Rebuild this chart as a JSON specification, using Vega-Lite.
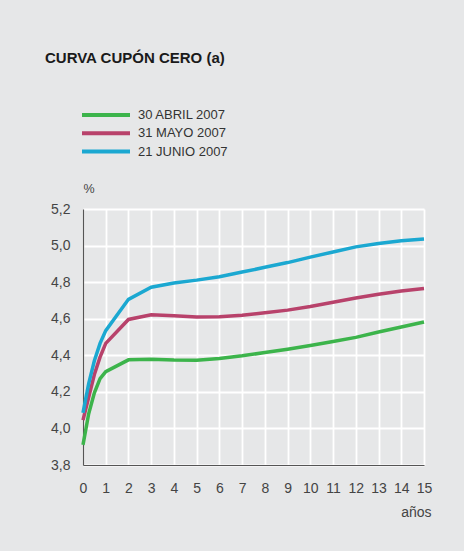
{
  "$schema": "https://vega.github.io/schema/vega-lite/v6.json",
  "width": 341,
  "height": 256,
  "autosize": {"type": "none"},
  "padding": {"left": 83, "top": 209, "right": 40, "bottom": 86},
  "background": "#e6e7e8",
  "title": {
    "text": "CURVA CUPÓN CERO (a)",
    "anchor": "start",
    "frame": "group",
    "dx": -38,
    "fontSize": 15,
    "font": "Liberation Sans",
    "fontWeight": "bold",
    "color": "#1a1a1a",
    "offset": 41
  },
  "data": {
    "values": [
      {"serie": "30 ABRIL 2007", "anos": 0, "tipo": 3.91},
      {"serie": "30 ABRIL 2007", "anos": 0.25, "tipo": 4.08},
      {"serie": "30 ABRIL 2007", "anos": 0.5, "tipo": 4.195},
      {"serie": "30 ABRIL 2007", "anos": 0.75, "tipo": 4.272},
      {"serie": "30 ABRIL 2007", "anos": 1, "tipo": 4.31},
      {"serie": "30 ABRIL 2007", "anos": 2, "tipo": 4.375},
      {"serie": "30 ABRIL 2007", "anos": 3, "tipo": 4.378},
      {"serie": "30 ABRIL 2007", "anos": 4, "tipo": 4.374},
      {"serie": "30 ABRIL 2007", "anos": 5, "tipo": 4.373},
      {"serie": "30 ABRIL 2007", "anos": 6, "tipo": 4.382},
      {"serie": "30 ABRIL 2007", "anos": 7, "tipo": 4.397},
      {"serie": "30 ABRIL 2007", "anos": 8, "tipo": 4.415},
      {"serie": "30 ABRIL 2007", "anos": 9, "tipo": 4.433},
      {"serie": "30 ABRIL 2007", "anos": 10, "tipo": 4.453},
      {"serie": "30 ABRIL 2007", "anos": 11, "tipo": 4.475},
      {"serie": "30 ABRIL 2007", "anos": 12, "tipo": 4.498},
      {"serie": "30 ABRIL 2007", "anos": 13, "tipo": 4.527},
      {"serie": "30 ABRIL 2007", "anos": 14, "tipo": 4.555},
      {"serie": "30 ABRIL 2007", "anos": 15, "tipo": 4.582},
      {"serie": "31 MAYO 2007", "anos": 0, "tipo": 4.045},
      {"serie": "31 MAYO 2007", "anos": 0.25, "tipo": 4.17},
      {"serie": "31 MAYO 2007", "anos": 0.5, "tipo": 4.295},
      {"serie": "31 MAYO 2007", "anos": 0.75, "tipo": 4.39},
      {"serie": "31 MAYO 2007", "anos": 1, "tipo": 4.465},
      {"serie": "31 MAYO 2007", "anos": 2, "tipo": 4.596},
      {"serie": "31 MAYO 2007", "anos": 3, "tipo": 4.622},
      {"serie": "31 MAYO 2007", "anos": 4, "tipo": 4.616},
      {"serie": "31 MAYO 2007", "anos": 5, "tipo": 4.609},
      {"serie": "31 MAYO 2007", "anos": 6, "tipo": 4.611},
      {"serie": "31 MAYO 2007", "anos": 7, "tipo": 4.619},
      {"serie": "31 MAYO 2007", "anos": 8, "tipo": 4.632},
      {"serie": "31 MAYO 2007", "anos": 9, "tipo": 4.647},
      {"serie": "31 MAYO 2007", "anos": 10, "tipo": 4.667},
      {"serie": "31 MAYO 2007", "anos": 11, "tipo": 4.69},
      {"serie": "31 MAYO 2007", "anos": 12, "tipo": 4.713},
      {"serie": "31 MAYO 2007", "anos": 13, "tipo": 4.734},
      {"serie": "31 MAYO 2007", "anos": 14, "tipo": 4.752},
      {"serie": "31 MAYO 2007", "anos": 15, "tipo": 4.765},
      {"serie": "21 JUNIO 2007", "anos": 0, "tipo": 4.085},
      {"serie": "21 JUNIO 2007", "anos": 0.25, "tipo": 4.245},
      {"serie": "21 JUNIO 2007", "anos": 0.5, "tipo": 4.37},
      {"serie": "21 JUNIO 2007", "anos": 0.75, "tipo": 4.465},
      {"serie": "21 JUNIO 2007", "anos": 1, "tipo": 4.535},
      {"serie": "21 JUNIO 2007", "anos": 2, "tipo": 4.706},
      {"serie": "21 JUNIO 2007", "anos": 3, "tipo": 4.772},
      {"serie": "21 JUNIO 2007", "anos": 4, "tipo": 4.795},
      {"serie": "21 JUNIO 2007", "anos": 5, "tipo": 4.811},
      {"serie": "21 JUNIO 2007", "anos": 6, "tipo": 4.83},
      {"serie": "21 JUNIO 2007", "anos": 7, "tipo": 4.855},
      {"serie": "21 JUNIO 2007", "anos": 8, "tipo": 4.881},
      {"serie": "21 JUNIO 2007", "anos": 9, "tipo": 4.907},
      {"serie": "21 JUNIO 2007", "anos": 10, "tipo": 4.937},
      {"serie": "21 JUNIO 2007", "anos": 11, "tipo": 4.965},
      {"serie": "21 JUNIO 2007", "anos": 12, "tipo": 4.993},
      {"serie": "21 JUNIO 2007", "anos": 13, "tipo": 5.011},
      {"serie": "21 JUNIO 2007", "anos": 14, "tipo": 5.026},
      {"serie": "21 JUNIO 2007", "anos": 15, "tipo": 5.036}
    ]
  },
  "mark": {"type": "line", "strokeWidth": 3.5, "strokeCap": "butt"},
  "encoding": {
    "x": {
      "field": "anos",
      "type": "quantitative",
      "scale": {"domain": [0, 15], "nice": false, "zero": false},
      "axis": {
        "values": [0, 1, 2, 3, 4, 5, 6, 7, 8, 9, 10, 11, 12, 13, 14, 15],
        "format": "d",
        "title": "años",
        "titleX": 348,
        "titleY": 51,
        "titleAlign": "right",
        "titleAnchor": null,
        "titleBaseline": "alphabetic",
        "labelPadding": 16,
        "labelFlush": false
      }
    },
    "y": {
      "field": "tipo",
      "type": "quantitative",
      "scale": {"domain": [3.8, 5.2], "nice": false, "zero": false},
      "axis": {
        "values": [3.8, 4.0, 4.2, 4.4, 4.6, 4.8, 5.0, 5.2],
        "labelExpr": "replace(format(datum.value, '.1f'), '.', ',')",
        "title": "%",
        "titleAngle": 0,
        "titleX": 0,
        "titleY": -16.5,
        "titleAlign": "left",
        "titleAnchor": null,
        "titleBaseline": "alphabetic",
        "titleFontSize": 12.5,
        "labelPadding": 13
      }
    },
    "color": {
      "field": "serie",
      "type": "nominal",
      "scale": {
        "domain": ["30 ABRIL 2007", "31 MAYO 2007", "21 JUNIO 2007"],
        "range": ["#3cb44b", "#b8426b", "#1ba8d1"]
      },
      "legend": {
        "title": null,
        "orient": "none",
        "legendX": -1,
        "legendY": -102
      }
    }
  },
  "config": {
    "view": {"stroke": null},
    "axis": {
      "grid": true,
      "gridColor": "#ffffff",
      "gridWidth": 1.8,
      "gridOpacity": 1,
      "domainColor": "#555555",
      "domainWidth": 1.2,
      "ticks": false,
      "tickSize": 0,
      "labelFont": "Liberation Sans",
      "labelFontSize": 14,
      "labelColor": "#444444",
      "titleFont": "Liberation Sans",
      "titleFontSize": 14,
      "titleFontWeight": "normal",
      "titleColor": "#444444"
    },
    "legend": {
      "symbolType": "M-4,0H4",
      "symbolSize": 144,
      "symbolStrokeWidth": 4,
      "symbolOffset": 16,
      "labelOffset": 24,
      "labelFont": "Liberation Sans",
      "labelFontSize": 13,
      "labelColor": "#333333",
      "rowPadding": 2.3,
      "padding": 0
    }
  }
}
